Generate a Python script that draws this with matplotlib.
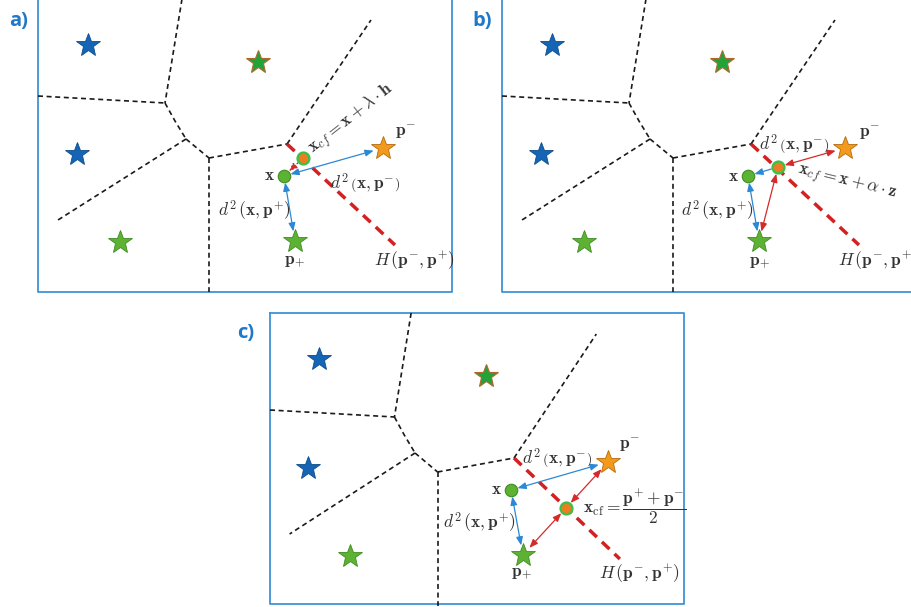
import matplotlib
matplotlib.use("Agg")
import matplotlib.pyplot as plt

plt.rcParams['mathtext.fontset'] = 'cm'
plt.rcParams['lines.scale_dashes'] = False

# ---------------- data (panel-local coordinates, frame of panel a) ----------------
panel_names = ["a)", "b)", "c)"]
blue_stars = [(88, 45), (77, 154)]
dark_green_star = [(258, 62)]
light_green_star = [(120, 242)]

voronoi_segments = [
    [(182, -1), (165, 103)],
    [(38, 96), (165, 103)],
    [(165, 103), (175, 121), (186, 139)],
    [(186, 139), (209, 158)],
    [(186, 139), (58, 220)],
    [(209, 158), (209, 292)],
    [(209, 158), (287, 144)],
    [(287, 144), (371, 20)],
]
hyperplane = [(287, 144), (395, 245)]

# special points per panel
x_pts = [(284, 176), (284, 176), (284, 176)]
xcf_pts = [(303, 158), (314, 167), (340, 194)]
pplus_pts = [(295, 241), (295, 241), (296, 241)]
pminus_pts = [(383, 148), (381, 148), (383, 148)]

# arrows per panel: (from, to, colour, style)
arrows = [
    [("x", "pm", "blue", "both"), ("x", "pp", "blue", "both"), ("xcf", "x", "red", "dotted")],
    [("xcf", "x", "blue", "single"), ("x", "pp", "blue", "both"),
     ("xcf", "pm", "red", "both"), ("xcf", "pp", "red", "both")],
    [("x", "pm", "blue", "both"), ("x", "pp", "blue", "both"),
     ("xcf", "pm", "red", "both"), ("xcf", "pp", "red", "both")],
]

D_MINUS = r'$d^2\,\left(\mathbf{x},\mathbf{p}^{-}\right)$'
D_PLUS = r'$d^2\,\left(\mathbf{x},\mathbf{p}^{+}\right)$'
H_TXT = r'$H\,\left(\mathbf{p}^{-},\mathbf{p}^{+}\right)$'

# labels per panel: (text, x, y, rotation, ha)
labels = [
    [(r'$\mathbf{x}$', 269, 175, 0, 'center'),
     (r'$\mathbf{p}^{-}$', 405, 132, 0, 'center'),
     (r'$\mathbf{x}_{cf} = \mathbf{x} + \lambda \cdot \mathbf{h}$', 352, 119, 38, 'center'),
     (D_MINUS, 365, 184, 0, 'center'),
     (D_PLUS, 254, 211, 0, 'center'),
     (r'$\mathbf{p}_{+}$', 295, 261, 0, 'center'),
     (H_TXT, 414, 261, 0, 'center')],
    [(r'$\mathbf{x}$', 269, 176, 0, 'center'),
     (r'$\mathbf{p}^{-}$', 405, 133, 0, 'center'),
     (D_MINUS, 330, 145, 0, 'center'),
     (r'$\mathbf{x}_{cf} = \mathbf{x} + \alpha \cdot \mathbf{z}$', 383, 183, -14, 'center'),
     (D_PLUS, 253, 211, 0, 'center'),
     (r'$\mathbf{p}_{+}$', 296, 262, 0, 'center'),
     (H_TXT, 414, 261, 0, 'center')],
    [(r'$\mathbf{x}$', 269, 175, 0, 'center'),
     (r'$\mathbf{p}^{-}$', 405, 131, 0, 'center'),
     (D_MINUS, 331, 145, 0, 'center'),
     (r'$\mathbf{x}_{\mathrm{cf}} = \dfrac{\mathbf{p}^{+}+\mathbf{p}^{-}}{2}$', 357, 193, 0, 'left'),
     (D_PLUS, 252, 209, 0, 'center'),
     (r'$\mathbf{p}_{+}$', 295, 259, 0, 'center'),
     (H_TXT, 415, 260, 0, 'center')],
]

# ---------------- layout ----------------
panel_offsets = [(0, 0, 1.0), (464, 0, 1.0), (232, 314, 0.98)]
panel_boxes = [(38, -1, 452, 292), (502, -1, 916, 292), (270, 313, 684, 604)]
panel_label_pos = [(19, 21), (482, 21), (246, 333)]

BOX = '#3f93d9'
LBL = '#1f78c8'
BLUE_A = '#2b88d6'
RED_A = '#d42a2a'
TXT = '#333333'

fig = plt.figure(figsize=(9.12, 6.07), dpi=100)
ax = fig.add_axes([0, 0, 1, 1])
ax.set_xlim(0, 912)
ax.set_ylim(607, 0)
ax.axis('off')


def T(i, p):
    ox, oy, sx = panel_offsets[i]
    return (ox + 38 + (p[0] - 38) * sx, oy + p[1])


for i in range(3):
    l, t, r, b = panel_boxes[i]
    ax.plot([l, r, r, l, l], [t, t, b, b, t], color=BOX, lw=1.3, zorder=1)
    ax.text(*panel_label_pos[i], panel_names[i], color=LBL, fontsize=14.5,
            fontweight='bold', family='Open Sans', ha='center', va='center')

    for seg in voronoi_segments:
        pts = [T(i, p) for p in seg]
        ax.plot([p[0] for p in pts], [p[1] for p in pts], color='#1a1a1a',
                lw=1.2, dashes=(3.6, 2.6), zorder=2)
    hp = [T(i, p) for p in hyperplane]
    ax.plot([p[0] for p in hp], [p[1] for p in hp], color='#d42020', lw=2.5,
            dashes=(7.5, 5), zorder=2)

    for p in blue_stars:
        q = T(i, p)
        ax.plot(*q, marker='*', ms=18, mfc='#1565b5', mec='#0e4c8c', mew=0.6, zorder=5)
    for p in dark_green_star:
        q = T(i, p)
        ax.plot(*q, marker='*', ms=18, mfc='#22a33a', mec='#b0682e', mew=0.8, zorder=5)
    for p in light_green_star:
        q = T(i, p)
        ax.plot(*q, marker='*', ms=18, mfc='#5db233', mec='#3e8c22', mew=0.6, zorder=5)

    P = {"x": T(i, x_pts[i]), "xcf": T(i, xcf_pts[i]),
         "pp": T(i, pplus_pts[i]), "pm": T(i, pminus_pts[i])}
    shrink = {"x": 4.8, "xcf": 5.0, "pp": 7.0, "pm": 7.0}

    for a, bb, col, style in arrows[i]:
        c = BLUE_A if col == 'blue' else RED_A
        if style == 'both':
            st = '<|-|>,head_length=0.5,head_width=0.2'
            ls = '-'
        else:
            st = '-|>,head_length=0.5,head_width=0.2'
            ls = ':' if style == 'dotted' else '-'
        ax.annotate('', xy=P[bb], xytext=P[a],
                    arrowprops=dict(arrowstyle=st, color=c, lw=0.9, ls=ls,
                                    shrinkA=shrink[a], shrinkB=shrink[bb]),
                    zorder=4)

    ax.plot(*P["pp"], marker='*', ms=18, mfc='#5db233', mec='#3e8c22', mew=0.6, zorder=6)
    ax.plot(*P["pm"], marker='*', ms=18, mfc='#f39a1c', mec='#b56a0a', mew=0.6, zorder=6)
    ax.plot(*P["x"], marker='o', ms=9, mfc='#5db233', mec='#3d8e20', mew=0.8, zorder=6)
    ax.plot(*P["xcf"], marker='o', ms=8.5, mfc='#ee7d22', mec='#3cc04a', mew=1.7, zorder=6)

    for txt, tx, ty, rot, ha in labels[i]:
        q = T(i, (tx, ty))
        ax.text(q[0], q[1], txt, fontsize=12.5, color=TXT, ha=ha, va='center',
                rotation=rot, rotation_mode='anchor', zorder=7)

fig.savefig('out.png', dpi=100, facecolor='white')
